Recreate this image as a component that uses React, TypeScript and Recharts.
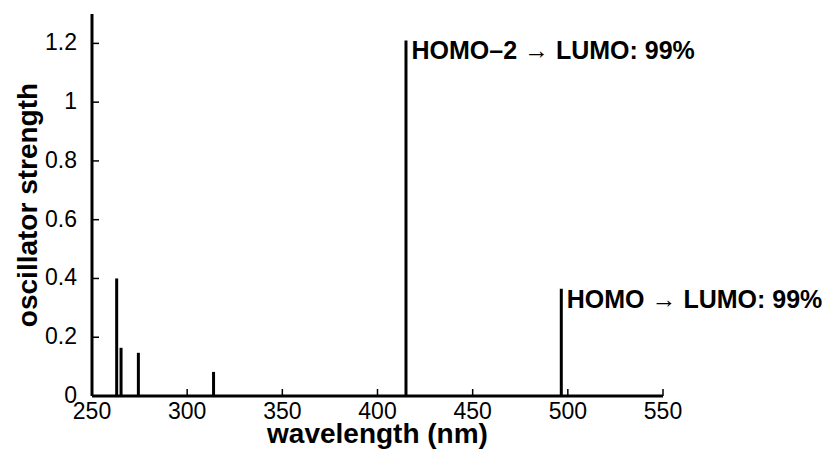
import React from 'react'
import { BarChart, Bar, XAxis, YAxis, LabelList, Label } from 'recharts'

// excitation wavelengths (nm) and oscillator strengths
const wavelengths = [262.8, 265.1, 274.2, 313.7, 414.8, 496.4]
const strengths = [0.4, 0.164, 0.147, 0.082, 1.21, 0.365]
const notes = ['', '', '', '', 'HOMO–2 → LUMO: 99%', 'HOMO → LUMO: 99%']

const xTicks = [250, 300, 350, 400, 450, 500, 550]
const yTicks = [0, 0.2, 0.4, 0.6, 0.8, 1, 1.2]

const FONT = '"Liberation Sans", Arial, Helvetica, sans-serif'
const TICK_LEN = 7
const Y_GAP = 15
const X_GAP = 6

const data = wavelengths.map((w, i) => ({ w, f: strengths[i], note: notes[i] }))

// ticks point into the plot, so the marks are drawn here next to the labels
function YTick(props: any) {
  const { x, y, payload } = props
  const ax = x + Y_GAP
  return (
    <g>
      <line x1={ax} y1={y} x2={ax + TICK_LEN} y2={y} stroke="#000" strokeWidth={1.5} />
      <text x={x} y={y} dy={7} textAnchor="end" fontFamily={FONT} fontSize={23} fill="#000">
        {payload.value}
      </text>
    </g>
  )
}

function XTick(props: any) {
  const { x, y, payload } = props
  const ay = y - X_GAP
  return (
    <g>
      <line x1={x} y1={ay} x2={x} y2={ay - TICK_LEN} stroke="#000" strokeWidth={1.5} />
      <text x={x} y={y} dy={16.5} textAnchor="middle" fontFamily={FONT} fontSize={23} fill="#000">
        {payload.value}
      </text>
    </g>
  )
}

function NoteLabel(props: any) {
  const { x, y, width, value } = props
  if (!value) return null
  return (
    <text
      x={x + width + 4}
      y={y + 19}
      fontFamily={FONT}
      fontWeight="bold"
      fontSize={25}
      fill="#000"
    >
      {value}
    </text>
  )
}

function YTitle(props: any) {
  const { viewBox } = props
  const cx = viewBox.x + 27
  const cy = viewBox.y + viewBox.height / 2
  return (
    <text
      x={cx}
      y={cy}
      transform={`rotate(-90 ${cx} ${cy})`}
      textAnchor="middle"
      dominantBaseline="central"
      fontFamily={FONT}
      fontWeight="bold"
      fontSize={28}
      fill="#000"
    >
      oscillator strength
    </text>
  )
}

function XTitle(props: any) {
  const { viewBox } = props
  const cx = viewBox.x + viewBox.width / 2
  return (
    <text
      x={cx}
      y={viewBox.y + 47}
      textAnchor="middle"
      fontFamily={FONT}
      fontWeight="bold"
      fontSize={28}
      fill="#000"
    >
      wavelength (nm)
    </text>
  )
}

export default function App() {
  return (
    <div style={{ position: 'absolute', left: 0, top: 0, background: '#fff' }}>
      <BarChart
        width={827}
        height={450}
        data={data}
        margin={{ top: 14, right: 164, left: 0, bottom: 0 }}
      >
        <XAxis
          dataKey="w"
          type="number"
          domain={[250, 550]}
          ticks={xTicks}
          interval={0}
          height={54}
          tick={<XTick />}
          tickSize={0}
          tickMargin={X_GAP}
          tickLine={false}
          axisLine={{ stroke: '#000', strokeWidth: 3 }}
        >
          <Label content={<XTitle />} />
        </XAxis>
        <YAxis
          type="number"
          domain={[0, 1.3]}
          ticks={yTicks}
          interval={0}
          width={92}
          tick={<YTick />}
          tickSize={0}
          tickMargin={Y_GAP}
          tickLine={false}
          axisLine={{ stroke: '#000', strokeWidth: 3 }}
        >
          <Label content={<YTitle />} />
        </YAxis>
        <Bar dataKey="f" fill="#000" barSize={3} isAnimationActive={false}>
          <LabelList dataKey="note" content={<NoteLabel />} />
        </Bar>
      </BarChart>
    </div>
  )
}
